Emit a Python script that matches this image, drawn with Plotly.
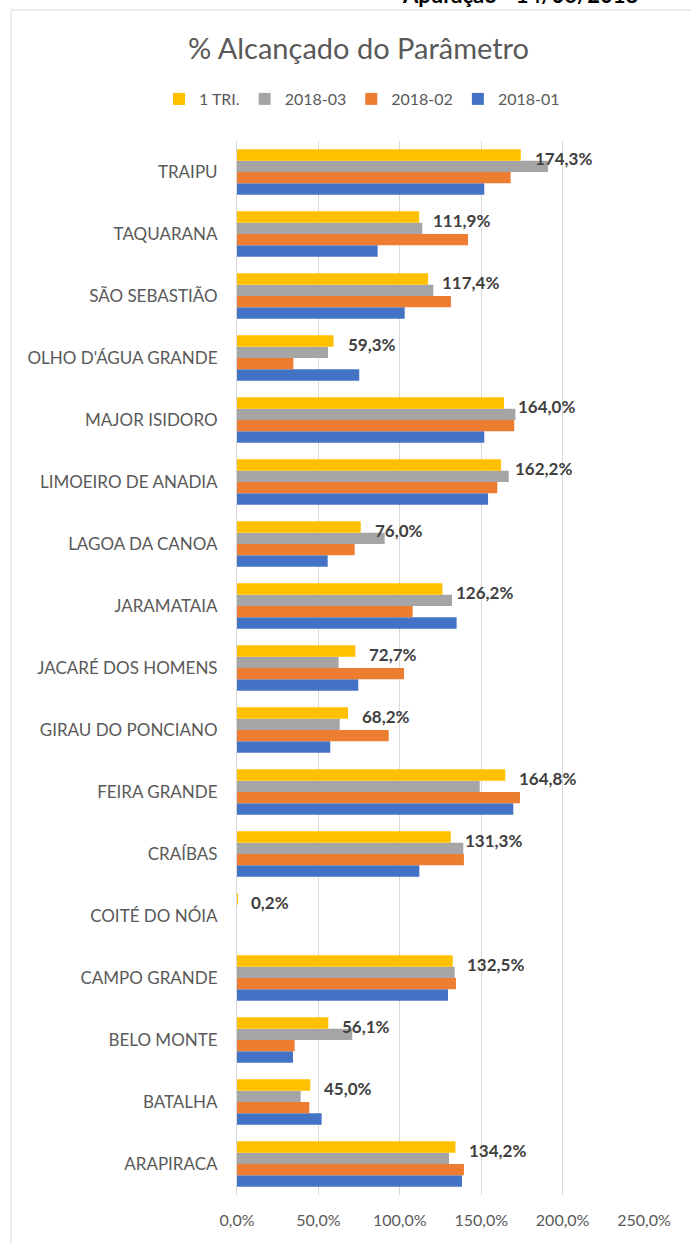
import plotly.graph_objects as go

categories = ["ARAPIRACA", "BATALHA", "BELO MONTE", "CAMPO GRANDE", "COITÉ DO NÓIA",
              "CRAÍBAS", "FEIRA GRANDE", "GIRAU DO PONCIANO", "JACARÉ DOS HOMENS",
              "JARAMATAIA", "LAGOA DA CANOA", "LIMOEIRO DE ANADIA", "MAJOR ISIDORO",
              "OLHO D'ÁGUA GRANDE", "SÃO SEBASTIÃO", "TAQUARANA", "TRAIPU"]

s_2018_01 = [138.2, 52.0, 34.4, 129.6, 0.0, 112.0, 169.7, 57.3, 74.5,
             134.9, 55.7, 154.2, 151.9, 75.1, 103.0, 86.4, 151.9]
s_2018_02 = [139.4, 44.4, 35.4, 134.5, 0.0, 139.4, 173.8, 93.2, 102.6,
             107.9, 72.3, 159.9, 170.3, 34.6, 131.4, 141.9, 168.1]
s_2018_03 = [130.2, 39.1, 70.8, 133.7, 0.0, 139.0, 149.1, 63.1, 62.4,
             132.1, 90.7, 166.9, 171.0, 55.9, 120.6, 113.8, 191.0]
s_1tri = [134.2, 45.0, 56.1, 132.5, 0.2, 131.3, 164.8, 68.2, 72.7,
          126.2, 76.0, 162.2, 164.0, 59.3, 117.4, 111.9, 174.3]

tick_vals = [0, 50, 100, 150, 200, 250]
tick_text = ["0,0%", "50,0%", "100,0%", "150,0%", "200,0%", "250,0%"]

W, H = 691, 1244
L, R, T, B = 237, 47, 141, 49
PW, PH = W - L - R, H - T - B

def px_x(p):
    return (p - L) / PW

def px_y(p):
    return (H - B - p) / PH

FONT = "Lato"
fig = go.Figure()
series = [("2018-01", s_2018_01, "#4472C4"),
          ("2018-02", s_2018_02, "#ED7D31"),
          ("2018-03", s_2018_03, "#A5A5A5"),
          ("1 TRI.", s_1tri, "#FFC000")]
for name, vals, col in series:
    fig.add_trace(go.Bar(y=categories, x=vals, name=name, orientation="h",
                         marker=dict(color=col, line=dict(width=0))))

for c, v in zip(categories, s_1tri):
    fig.add_annotation(x=v, y=c, xref="x", yref="y", xanchor="left", yanchor="middle",
                       xshift=12, yshift=14, showarrow=False,
                       text="<b>" + f"{v:.1f}".replace(".", ",") + "%</b>",
                       font=dict(family=FONT, size=17, color="#404040"))

fig.add_annotation(text="% Alcançado do Parâmetro", xref="paper", yref="paper",
                   x=px_x(358), y=px_y(47), xanchor="center", yanchor="middle",
                   showarrow=False, font=dict(family=FONT, size=29, color="#595959"))

fig.add_annotation(text="<b>Apuração - 14/06/2018</b>", xref="paper", yref="paper",
                   x=px_x(400), y=px_y(10), xanchor="left", yanchor="bottom",
                   showarrow=False, font=dict(family=FONT, size=22, color="#000000"))

fig.add_shape(type="rect", xref="paper", yref="paper",
              x0=px_x(11), x1=px_x(720), y0=px_y(1260), y1=px_y(10),
              line=dict(color="#d9d9d9", width=1), fillcolor="rgba(0,0,0,0)")

fig.update_layout(
    width=W, height=H,
    margin=dict(l=L, r=R, t=T, b=B, autoexpand=False),
    paper_bgcolor="white", plot_bgcolor="white",
    barmode="group", bargap=0.27, bargroupgap=0,
    showlegend=True,
    legend=dict(orientation="h", traceorder="reversed", x=px_x(362), y=px_y(99),
                xanchor="center", yanchor="middle",
                font=dict(family=FONT, size=16, color="#595959"), itemwidth=30),
    font=dict(family=FONT, size=16, color="#595959"),
    xaxis=dict(range=[0, 250], tickvals=tick_vals, ticktext=tick_text,
               showgrid=True, gridcolor="#d9d9d9", gridwidth=1,
               zeroline=False, showline=False, ticks="",
               tickfont=dict(family=FONT, size=16, color="#595959"),
               ticklabelstandoff=14, automargin=False),
    yaxis=dict(showgrid=False, showline=True, linecolor="#d9d9d9", ticks="",
               tickfont=dict(family=FONT, size=17, color="#595959"),
               ticklabelstandoff=15, automargin=False),
)

fig.write_html("out.html", config={"displayModeBar": False},
               post_script="document.body.style.margin='0';document.body.style.overflow='hidden';")
